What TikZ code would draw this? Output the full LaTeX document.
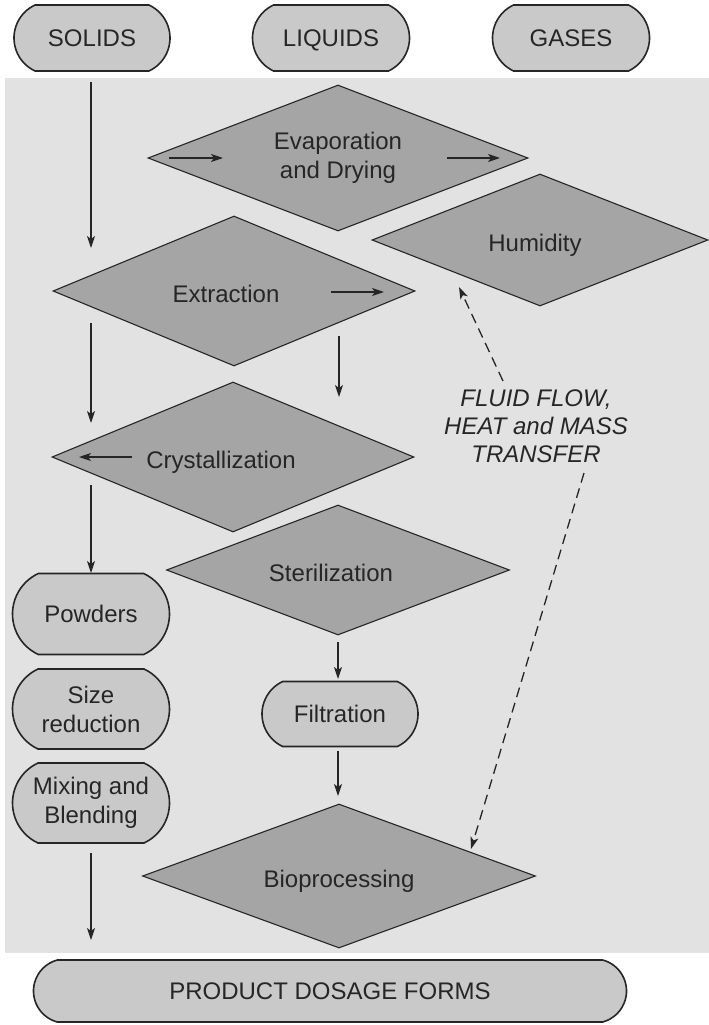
\documentclass[tikz,border=0pt]{standalone}
\usepackage{fontspec}
\setmainfont{Liberation Sans}
\usetikzlibrary{shapes.geometric,shapes.misc,arrows.meta}
\definecolor{bggrey}{HTML}{E2E2E2}
\definecolor{dgrey}{HTML}{A5A5A5}
\definecolor{pgrey}{HTML}{C9C9C9}
\definecolor{ink}{HTML}{262626}
\newcommand{\lowtxt}[1]{\raisebox{-3pt}[\height][\depth]{#1}}
\newcommand{\nodepth}[1]{\raisebox{0pt}[\height][0pt]{#1}}
\begin{document}
\begin{tikzpicture}[x=1pt,y=-1pt,
  font=\fontsize{24}{29}\selectfont,
  pill/.style={rounded rectangle, rounded rectangle arc length=130, draw=ink, line width=1.6pt, fill=pgrey, inner sep=0pt, text=ink, align=center},
  proc/.style={diamond, draw=ink, line width=1.1pt, fill=dgrey, inner sep=0pt, text=ink, align=center, shape aspect=2.5},
  flow/.style={-{Stealth[length=12pt,width=8pt,inset=3pt]}, line width=1.3pt, draw=ink},
  dflow/.style={flow, dash pattern=on 10pt off 6pt},
  lbl/.style={text=ink, align=center, inner sep=0pt}]
\useasboundingbox (0,0) rectangle (709,1025);
\fill[white] (0,0) rectangle (709,1025);
\fill[bggrey] (5,78) rectangle (709,953);

% top pills
\node[pill, minimum width=156pt, minimum height=66pt] (solids) at (92,38) {SOLIDS};
\node[pill, minimum width=157pt, minimum height=66pt] (liquids) at (331,38) {\nodepth{LIQUIDS}};
\node[pill, minimum width=157pt, minimum height=66pt] (gases) at (571,38) {GASES};

% diamonds
\node[proc, minimum width=380pt, minimum height=146pt] (evap) at (338,158) {Evaporation\\and Drying};
\node[proc, minimum width=336pt, minimum height=132pt] (humid) at (540,240) {\lowtxt{\nodepth{Humidity}}\hspace*{10pt}};
\node[proc, minimum width=362pt, minimum height=150pt] (extr) at (234,291) {\lowtxt{Extraction}\hspace*{16pt}};
\node[proc, minimum width=362pt, minimum height=150pt] (cryst) at (233,457) {\lowtxt{\nodepth{Crystallization}}\hspace*{24pt}};
\node[proc, minimum width=343pt, minimum height=130pt] (steril) at (338,570) {\lowtxt{Sterilization}\hspace*{14pt}};
\node[proc, minimum width=393pt, minimum height=144pt] (bio) at (339,876) {\lowtxt{\nodepth{Bioprocessing}}};

% left pills
\node[pill, minimum width=157pt, minimum height=81pt] (powders) at (91,614) {Powders};
\node[pill, minimum width=157pt, minimum height=80pt] (size) at (91,709) {Size\\reduction};
\node[pill, minimum width=157pt, minimum height=80pt] (mixing) at (91,803) {Mixing and\\Blending};
\node[pill, minimum width=156pt, minimum height=65pt] (filt) at (340,714) {Filtration};
\node[pill, rounded rectangle arc length=150, minimum width=593pt, minimum height=62pt] (product) at (330,991) {PRODUCT DOSAGE FORMS};

% label
\node[lbl, font=\fontsize{24}{28}\selectfont\itshape] (fluid) at (536,426) {FLUID FLOW,\\HEAT and MASS\\TRANSFER};

% arrow end coordinates
\coordinate (a1s) at (91,82);   \coordinate (a1e) at (91,248);
\coordinate (a2s) at (91,323);  \coordinate (a2e) at (91,423);
\coordinate (a3s) at (339,336); \coordinate (a3e) at (339,397);
\coordinate (a4s) at (91,485);  \coordinate (a4e) at (91,573);
\coordinate (a5s) at (338,642); \coordinate (a5e) at (338,679);
\coordinate (a6s) at (338,751); \coordinate (a6e) at (338,796);
\coordinate (a7s) at (91,853);  \coordinate (a7e) at (91,940);
\coordinate (e1s) at (169,158); \coordinate (e1e) at (223,158);
\coordinate (e2s) at (447,158); \coordinate (e2e) at (500,158);
\coordinate (x1s) at (331,292); \coordinate (x1e) at (384,292);
\coordinate (c1s) at (132,457); \coordinate (c1e) at (79,457);
\coordinate (d1s) at (503,381); \coordinate (d1e) at (459,287);
\coordinate (d2s) at (584,473); \coordinate (d2e) at (471,849);

\draw[flow] (a1s) -- (a1e);
\draw[flow] (a2s) -- (a2e);
\draw[flow] (a3s) -- (a3e);
\draw[flow] (a4s) -- (a4e);
\draw[flow] (a5s) -- (a5e);
\draw[flow] (a6s) -- (a6e);
\draw[flow] (a7s) -- (a7e);
\draw[flow] (e1s) -- (e1e);
\draw[flow] (e2s) -- (e2e);
\draw[flow] (x1s) -- (x1e);
\draw[flow] (c1s) -- (c1e);
\draw[dflow] (d1s) -- (d1e);
\draw[dflow] (d2s) -- (d2e);
\end{tikzpicture}
\end{document}
